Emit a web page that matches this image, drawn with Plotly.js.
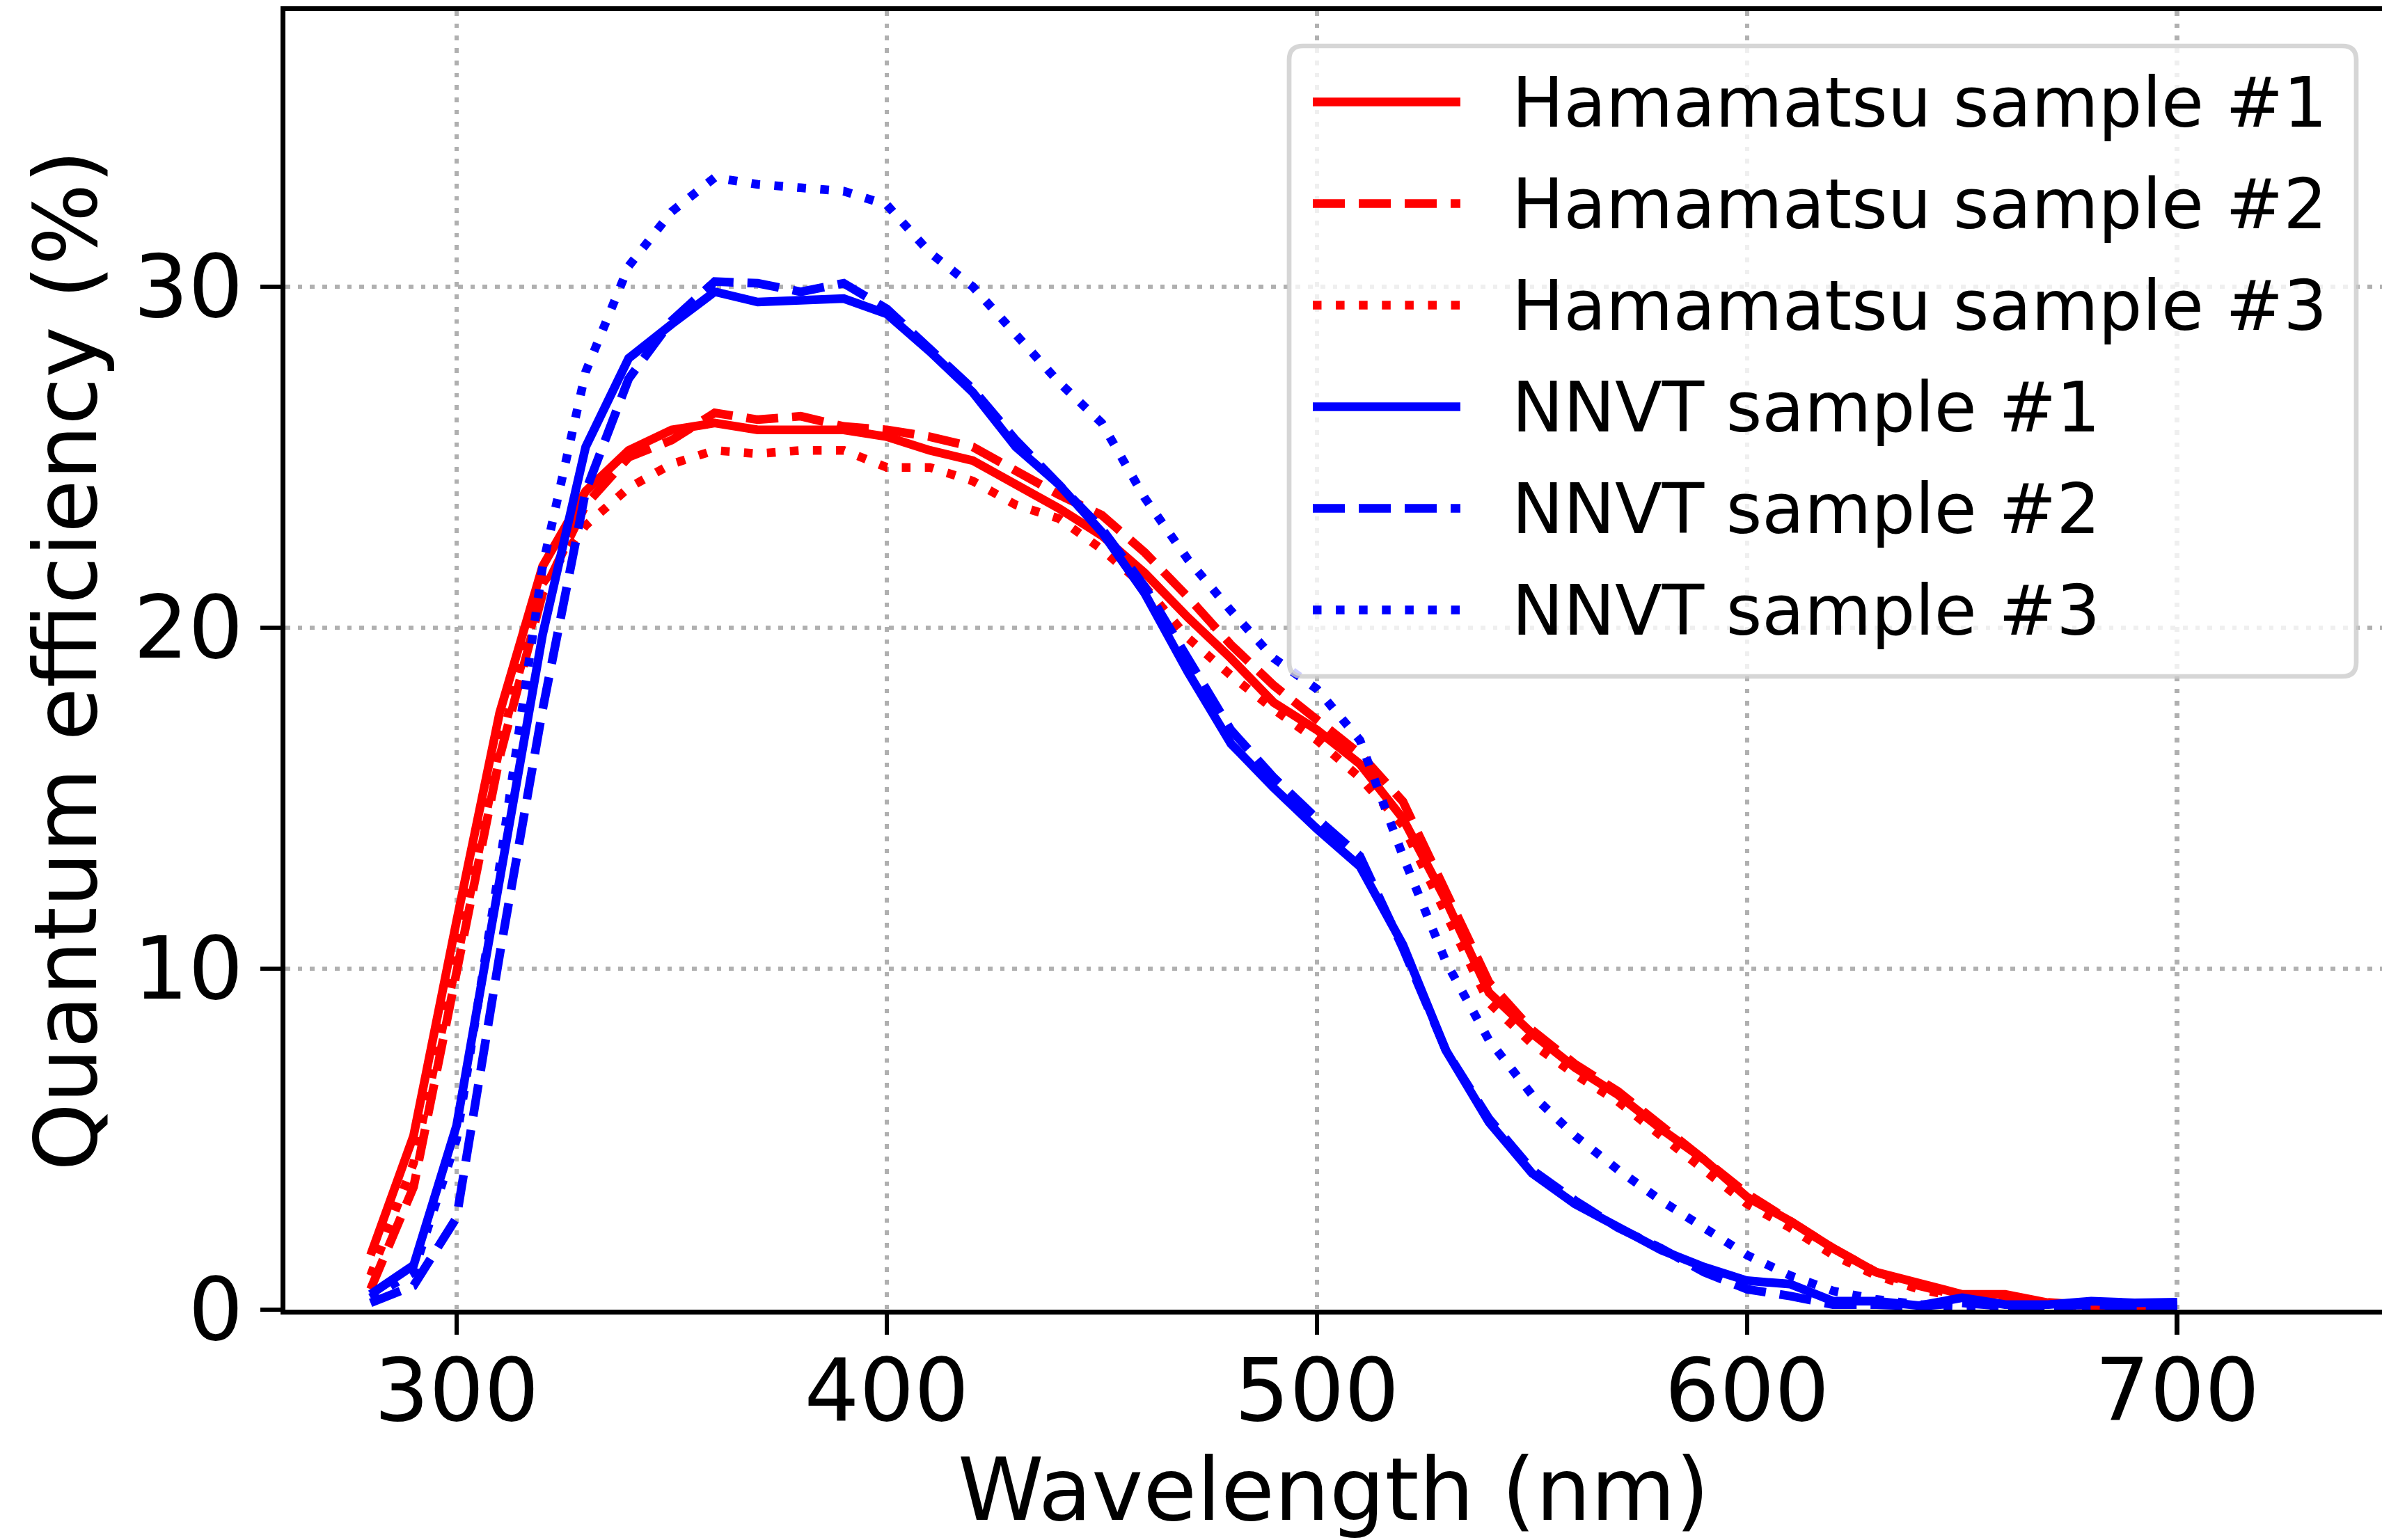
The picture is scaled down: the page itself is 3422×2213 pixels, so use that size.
<!DOCTYPE html>
<html>
<head>
<meta charset="utf-8">
<script src="https://cdn.plot.ly/plotly-3.0.1.min.js"></script>
<style>html,body{margin:0;padding:0;background:#fff;}#chart{width:3422px;height:2213px;}</style>
</head>
<body>
<div id="chart"></div>
<script>
// ---- data ----
const wavelength = [280,290,300,310,320,330,340,350,360,370,380,390,400,410,420,430,440,450,460,470,480,490,500,510,520,530,540,550,560,570,580,590,600,610,620,630,640,650,660,670,680,690,700];

const hamamatsu1 = [1.6,5.1,11.4,17.5,21.8,24.0,25.2,25.8,26.0,25.8,25.8,25.8,25.6,25.2,24.9,24.2,23.5,22.7,21.6,20.3,19.1,17.8,17.0,16.0,14.4,12.0,9.3,8.1,7.1,6.3,5.3,4.4,3.3,2.6,1.8,1.1,0.8,0.45,0.45,0.2,0.12,0.1,0.1];
const hamamatsu2 = [0.6,3.6,9.9,16.2,21.0,23.6,25.0,25.5,26.3,26.1,26.2,25.9,25.8,25.6,25.3,24.6,23.9,23.3,22.2,20.9,19.5,18.3,17.3,16.3,14.9,12.3,9.6,8.2,7.2,6.4,5.4,4.4,3.4,2.6,1.8,1.1,0.7,0.4,0.3,0.2,0.12,0.1,0.1];
const hamamatsu3 = [1.0,4.3,10.2,16.5,21.3,23.0,24.1,24.8,25.2,25.1,25.2,25.2,24.7,24.7,24.3,23.6,23.2,22.3,21.2,19.7,18.6,17.6,16.7,15.6,14.2,11.6,9.0,7.8,6.9,6.1,5.1,4.1,3.1,2.4,1.6,1.0,0.6,0.35,0.25,0.15,0.1,0.1,0.1];
const nnvt1 = [0.45,1.3,5.4,12.6,19.8,25.3,27.9,28.9,29.85,29.55,29.6,29.65,29.2,28.1,26.9,25.3,24.2,22.8,21.0,18.7,16.6,15.3,14.1,13.0,10.7,7.6,5.5,4.0,3.1,2.4,1.75,1.25,0.85,0.75,0.25,0.25,0.12,0.35,0.15,0.15,0.25,0.2,0.22];
const nnvt2 = [0.2,0.7,2.7,10.4,17.6,24.0,27.3,29.0,30.15,30.1,29.85,30.1,29.35,28.2,27.0,25.5,24.2,22.9,21.2,19.1,17.0,15.6,14.4,13.3,10.6,7.6,5.6,4.1,3.2,2.4,1.8,1.1,0.6,0.4,0.15,0.15,0.1,0.2,0.1,0.1,0.15,0.1,0.1];
const nnvt3 = [0.35,1.1,5.0,13.0,21.8,27.5,30.6,32.2,33.2,33.0,32.9,32.8,32.4,31.0,30.0,28.6,27.2,26.0,23.8,22.0,20.5,19.1,18.2,16.7,13.3,10.2,7.9,6.3,5.1,4.1,3.2,2.4,1.6,1.0,0.55,0.3,0.15,0.1,0.1,0.1,0.1,0.1,0.1];

const seriesNames = ["Hamamatsu sample #1","Hamamatsu sample #2","Hamamatsu sample #3","NNVT sample #1","NNVT sample #2","NNVT sample #3"];
const seriesValues = [hamamatsu1, hamamatsu2, hamamatsu3, nnvt1, nnvt2, nnvt3];
const xTicks = [300,400,500,600,700];
const yTicks = [0,10,20,30];

// ---- styles ----
const colors = ["#ff0000","#ff0000","#ff0000","#0000ff","#0000ff","#0000ff"];
const LW = 12.5;
const DASH = "46px,20px";
const DOT = "12.5px,20.6px";
const dashes = ["solid", DASH, DOT, "solid", DASH, DOT];
const FONT = "DejaVu Sans";

const W = 3422, H = 2213;
const ML = 410, MR = 0, MT = 16, MB = 331;
const PW = W - ML - MR, PH = H - MT - MB;
const px = X => (X - ML) / PW;
const py = Y => (H - MB - Y) / PH;

const traces = seriesValues.map((vals, i) => ({
  type: "scatter", mode: "lines",
  x: wavelength, y: vals, name: seriesNames[i],
  line: {color: colors[i], width: LW, dash: dashes[i]},
  showlegend: false, hoverinfo: "skip"
}));

// ---- custom legend (matplotlib-like) ----
const lx0 = px(1852), lx1 = px(3385), ly0 = py(972), ly1 = py(66);
const rx = 20 / PW, ry = 20 / PH;
const boxPath = `M ${lx0+rx},${ly1} L ${lx1-rx},${ly1} Q ${lx1},${ly1} ${lx1},${ly1-ry} L ${lx1},${ly0+ry} Q ${lx1},${ly0} ${lx1-rx},${ly0} L ${lx0+rx},${ly0} Q ${lx0},${ly0} ${lx0},${ly0+ry} L ${lx0},${ly1-ry} Q ${lx0},${ly1} ${lx0+rx},${ly1} Z`;
const shapes = [{
  type: "path", path: boxPath, xref: "paper", yref: "paper", layer: "above",
  fillcolor: "rgba(255,255,255,0.8)", line: {color: "rgba(204,204,204,0.8)", width: 6.7}
}];
const annotations = [];
const rowY = [146.5, 292.5, 438.5, 584.5, 730.5, 876.5];
seriesNames.forEach((nm, i) => {
  shapes.push({
    type: "line", xref: "paper", yref: "paper", layer: "above",
    x0: px(1886), x1: px(2098), y0: py(rowY[i]), y1: py(rowY[i]),
    line: {color: colors[i], width: LW, dash: dashes[i]}
  });
  annotations.push({
    xref: "paper", yref: "paper", x: px(2170), y: py(rowY[i] + 1),
    xanchor: "left", yanchor: "middle", showarrow: false, text: nm,
    font: {family: FONT, size: 99, color: "#000"}
  });
});

const axisCommon = {
  showline: true, linecolor: "#000", linewidth: 6.7,
  ticks: "outside", ticklen: 29, tickwidth: 6.7, tickcolor: "#000",
  showgrid: true, gridcolor: "#b0b0b0", gridwidth: 6.7, griddash: "6.7px,11px",
  zeroline: false, tickfont: {family: FONT, size: 124, color: "#000"},
  automargin: false
};

const layout = {
  width: W, height: H,
  margin: {l: ML, r: MR, t: MT, b: MB, pad: 0},
  paper_bgcolor: "#fff", plot_bgcolor: "#fff",
  font: {family: FONT, color: "#000"},
  showlegend: false,
  xaxis: Object.assign({}, axisCommon, {
    range: [260.2, 747.6], tickmode: "array", tickvals: xTicks, ticktext: xTicks.map(String),
    mirror: true, ticklabelstandoff: -26,
    title: {text: "Wavelength (nm)", font: {family: FONT, size: 125, color: "#000"}, standoff: 44}
  }),
  yaxis: Object.assign({}, axisCommon, {
    range: [0, 38.08], tickmode: "array", tickvals: yTicks, ticktext: yTicks.map(String),
    mirror: false,
    title: {text: "Quantum efficiency (%)", font: {family: FONT, size: 124, color: "#000"}, standoff: 14}
  }),
  shapes: shapes, annotations: annotations
};

Plotly.newPlot("chart", traces, layout, {staticPlot: true, displayModeBar: false});
</script>
</body>
</html>
